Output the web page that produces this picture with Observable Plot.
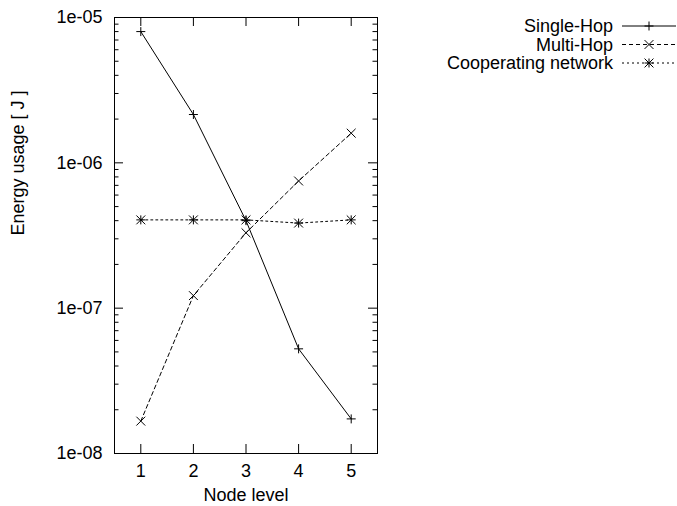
<!DOCTYPE html>
<html>
<head>
<meta charset="utf-8">
<script src="https://cdn.jsdelivr.net/npm/d3@7"></script>
<script src="https://cdn.jsdelivr.net/npm/@observablehq/plot@0.6"></script>
<style>
  html, body { margin: 0; padding: 0; background: #fff; }
  #wrap { position: relative; width: 677px; height: 506px; }
  #wrap svg { position: absolute; left: 0; top: 0; }
</style>
</head>
<body>
<div id="wrap"></div>
<script>
// ---- data ----
const nodeLevels = [1, 2, 3, 4, 5];
const singleHop = [8.0e-6, 2.15e-6, 4.0e-7, 5.25e-8, 1.73e-8];
const multiHop = [1.67e-8, 1.22e-7, 3.3e-7, 7.5e-7, 1.6e-6];
const cooperating = [4.05e-7, 4.05e-7, 4.05e-7, 3.85e-7, 4.05e-7];
const seriesNames = ["Single-Hop", "Multi-Hop", "Cooperating network"];
// each series' point glyph is made of one or more stroke symbols (gnuplot-style "*" = "+" and "x")
const seriesSymbols = [["plus"], ["times"], ["plus", "times"]];
const seriesDash = [null, "4,3", "2,3"];
const yTickValues = [1e-8, 1e-7, 1e-6, 1e-5];
const yTickLabels = ["1e-08", "1e-07", "1e-06", "1e-05"];
const xTickValues = [1, 2, 3, 4, 5];
const xLabel = "Node level";
const yLabel = "Energy usage [ J ]";

// ---- build tables ----
const seriesValues = [singleHop, multiHop, cooperating];
const rows = [];
seriesNames.forEach((name, i) => {
  nodeLevels.forEach((x, j) => rows.push({series: name, idx: i, x, y: seriesValues[i][j]}));
});
const minorTicks = [];
for (let k = 0; k < yTickValues.length - 1; k++) {
  for (let m = 2; m <= 9; m++) minorTicks.push(m * yTickValues[k]);
}

const W = 677, H = 506;
const mL = 114, mR = 300, mT = 17, mB = 53;
const fw = W - mL - mR, fh = H - mT - mB;
const font = "'Liberation Sans', Arial, Helvetica, sans-serif";
const symR = {plus: 3.0, times: 4.1};

const marks = [
  Plot.frame({stroke: "#000", strokeWidth: 1}),
  // y major ticks (both sides, inward)
  Plot.tickY(yTickValues, {y: d => d, insetRight: fw - 9, stroke: "#000"}),
  Plot.tickY(yTickValues, {y: d => d, insetLeft: fw - 9, stroke: "#000"}),
  // y minor ticks
  Plot.tickY(minorTicks, {y: d => d, insetRight: fw - 4.5, stroke: "#000"}),
  Plot.tickY(minorTicks, {y: d => d, insetLeft: fw - 4.5, stroke: "#000"}),
  // x ticks (bottom & top, inward)
  Plot.tickX(xTickValues, {x: d => d, insetTop: fh - 9, stroke: "#000"}),
  Plot.tickX(xTickValues, {x: d => d, insetBottom: fh - 9, stroke: "#000"}),
  Plot.axisY({ticks: yTickValues, tickFormat: d => yTickLabels[yTickValues.indexOf(d)], tickSize: 0, tickPadding: 12, label: null}),
  Plot.axisX({ticks: xTickValues, tickFormat: d => String(d), tickSize: 0, tickPadding: 11, label: null}),
  Plot.text([yLabel], {text: d => d, frameAnchor: "left", dx: -96, rotate: -90, fill: "#000"}),
  Plot.text([xLabel], {text: d => d, frameAnchor: "bottom", dy: 47, fill: "#000"})
];
seriesNames.forEach((name, i) => {
  const data = rows.filter(r => r.idx === i);
  marks.push(Plot.line(data, {x: "x", y: "y", stroke: "#000", strokeWidth: 1, strokeDasharray: seriesDash[i]}));
  seriesSymbols[i].forEach(s => {
    marks.push(Plot.dot(data, {x: "x", y: "y", symbol: () => s, stroke: "#000", strokeWidth: 1, fill: "none", r: symR[s]}));
  });
});

const chart = Plot.plot({
  width: W, height: H,
  marginLeft: mL, marginRight: mR, marginTop: mT, marginBottom: mB,
  style: {fontSize: "18px", fontFamily: font, color: "#000", background: "#fff"},
  x: {type: "linear", domain: [0.5, 5.5]},
  y: {type: "log", domain: [1e-8, 1e-5]},
  symbol: {type: "identity"},
  marks
});
document.getElementById("wrap").appendChild(chart);

// ---- legend (top right) ----
const leg = d3.select("#wrap").append("svg")
  .attr("width", W).attr("height", H)
  .style("pointer-events", "none");
const symMap = {plus: d3.symbolPlus, times: d3.symbolTimes};
const textX = 613, lineX1 = 622, lineX2 = 676, rowY0 = 26, rowGap = 18.5;
seriesNames.forEach((name, i) => {
  const y = rowY0 + i * rowGap;
  const g = leg.append("g");
  g.append("text").attr("x", textX).attr("y", y).attr("text-anchor", "end")
    .attr("dominant-baseline", "central")
    .style("font-family", font).style("font-size", "18px").attr("fill", "#000").text(name);
  g.append("line").attr("x1", lineX1).attr("x2", lineX2).attr("y1", y).attr("y2", y)
    .attr("stroke", "#000").attr("stroke-width", 1)
    .attr("stroke-dasharray", seriesDash[i]);
  seriesSymbols[i].forEach(s => {
    g.append("path").attr("transform", `translate(${(lineX1 + lineX2) / 2},${y})`)
      .attr("d", d3.symbol(symMap[s], Math.PI * symR[s] * symR[s])())
      .attr("stroke", "#000").attr("fill", "none");
  });
});
</script>
</body>
</html>
